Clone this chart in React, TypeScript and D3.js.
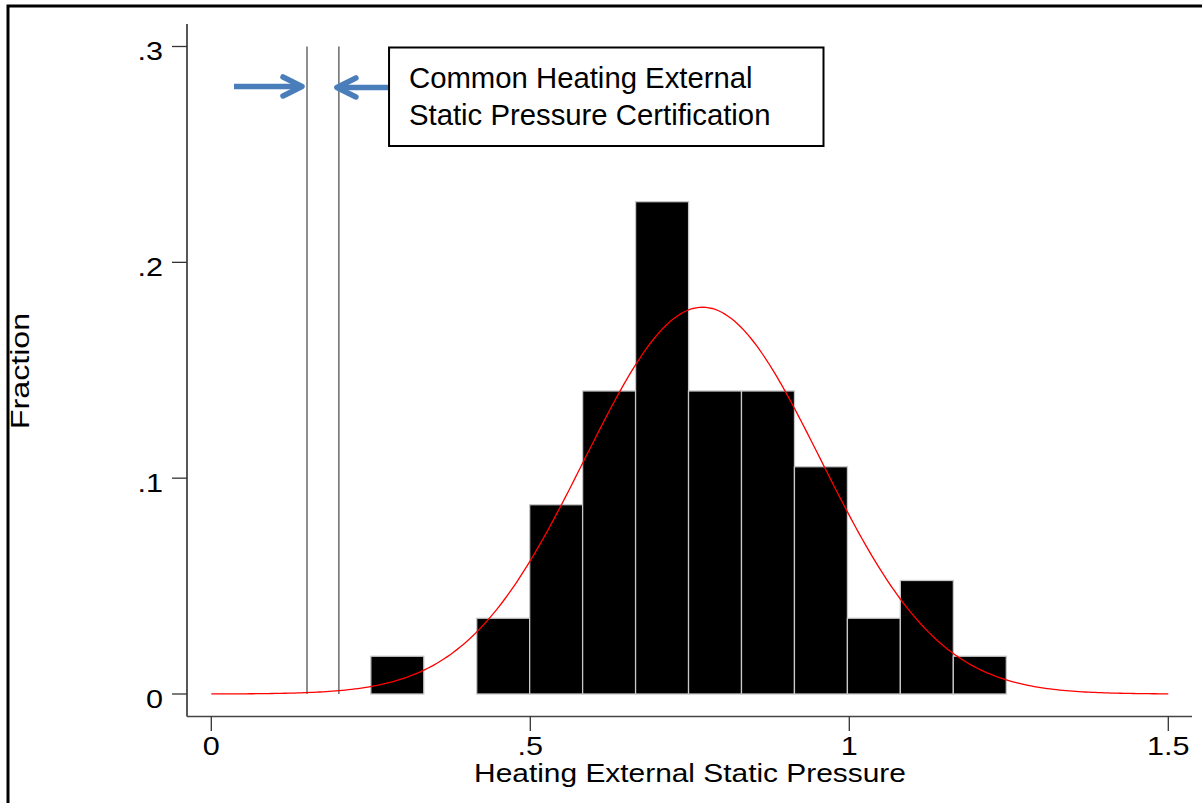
import React from "react";
import * as d3 from "d3";

// ---- data ----
const binLower = [0.25, 0.333, 0.416, 0.499, 0.582, 0.665, 0.748, 0.831, 0.914, 0.997, 1.08, 1.163];
const binFraction = [0.0175, 0, 0.0351, 0.0877, 0.1404, 0.2281, 0.1404, 0.1404, 0.1053, 0.0351, 0.0526, 0.0175];
const binWidth = 0.0831;
const normalMean = 0.77;
const normalSd = 0.185;
const xTicks = [0, 0.5, 1, 1.5];
const xTickLabels = ["0", ".5", "1", "1.5"];
const yTicks = [0, 0.1, 0.2, 0.3];
const yTickLabels = ["0", ".1", ".2", ".3"];
const certLines = [0.15, 0.2];
const annotationLines = ["Common Heating External", "Static Pressure Certification"];
const xTitle = "Heating External Static Pressure";
const yTitle = "Fraction";

const W = 1202;
const H = 803;

export default function App() {
  const x = d3.scaleLinear().domain([0, 1.5]).range([211.3, 1168.3]);
  const y = d3.scaleLinear().domain([0, 0.3]).range([694, 46.5]);

  const axisLeft = 187;
  const axisBottom = 716.5;
  const axisTop = 24;
  const axisRight = 1192;

  const curvePts = d3.range(0, 1.5 + 1e-9, 0.005).map((v) => {
    const z = (v - normalMean) / normalSd;
    const dens = Math.exp(-0.5 * z * z) / (normalSd * Math.sqrt(2 * Math.PI));
    return [v, dens * binWidth] as [number, number];
  });
  const line = d3
    .line<[number, number]>()
    .x((d) => x(d[0]))
    .y((d) => y(d[1]))
    .curve(d3.curveLinear);

  const font = "Liberation Sans, Arial, Helvetica, sans-serif";
  const blue = "#4a7ebb";
  const arrowY = y(0.2815);
  const tipL = x(certLines[0]) - 5;
  const tipR = x(certLines[1]) - 2;
  const boxL = x(0.2786);
  const boxR = 823.5;
  const boxT = 47.5;
  const boxB = 146;

  return (
    <svg
      width={W}
      height={H}
      style={{ position: "absolute", left: 0, top: 0, background: "#fff" }}
      fontFamily={font}
    >
      <rect x={0} y={0} width={W} height={H} fill="#fff" />
      {/* outer frame (top & left visible) */}
      <rect x={8} y={6} width={W + 20} height={H + 20} fill="none" stroke="#000" strokeWidth={3} />

      {/* bars */}
      {binLower.map((b, i) =>
        binFraction[i] > 0 ? (
          <rect
            key={i}
            x={x(b)}
            y={y(binFraction[i])}
            width={x(b + binWidth) - x(b)}
            height={y(0) - y(binFraction[i])}
            fill="#000"
            stroke="#c8c8c8"
            strokeWidth={1.3}
          />
        ) : null
      )}

      {/* vertical certification lines */}
      {certLines.map((c, i) => (
        <line key={i} x1={x(c)} x2={x(c)} y1={y(0.3)} y2={y(0)} stroke="#333" strokeWidth={1.1} />
      ))}

      {/* normal curve */}
      <path d={line(curvePts) || ""} fill="none" stroke="#ff0000" strokeWidth={1.3} />

      {/* axes */}
      <line x1={axisLeft} x2={axisLeft} y1={axisTop} y2={axisBottom} stroke="#111" strokeWidth={1.4} />
      <line x1={axisLeft} x2={axisRight} y1={axisBottom} y2={axisBottom} stroke="#444" strokeWidth={1.4} />
      {yTicks.map((t, i) => (
        <g key={i}>
          <line x1={172} x2={axisLeft} y1={y(t)} y2={y(t)} stroke="#333" strokeWidth={1.3} />
          <text
            transform={`translate(163,${y(t) + 13.5}) scale(1.2,1)`}
            textAnchor="end"
            fontSize={25.5}
            fill="#000"
          >
            {yTickLabels[i]}
          </text>
        </g>
      ))}
      {xTicks.map((t, i) => (
        <g key={i}>
          <line x1={x(t)} x2={x(t)} y1={axisBottom} y2={731} stroke="#333" strokeWidth={1.3} />
          <text
            transform={`translate(${x(t)},755) scale(1.2,1)`}
            textAnchor="middle"
            fontSize={25.5}
            fill="#000"
          >
            {xTickLabels[i]}
          </text>
        </g>
      ))}
      <text
        transform={`translate(690,781.5) scale(1.15,1)`}
        textAnchor="middle"
        fontSize={26}
        fill="#000"
      >
        {xTitle}
      </text>
      <text
        transform={`translate(28.5,371) rotate(-90) scale(1.24,1)`}
        textAnchor="middle"
        fontSize={26}
        fill="#000"
      >
        {yTitle}
      </text>

      {/* arrows */}
      <g stroke={blue} strokeWidth={5.5} strokeLinecap="round" strokeLinejoin="round" fill="none">
        <line x1={234} x2={tipL - 2} y1={arrowY} y2={arrowY} strokeLinecap="butt" />
        <polyline points={`${tipL - 19},${arrowY - 9.5} ${tipL},${arrowY} ${tipL - 19},${arrowY + 9.5}`} />
        <line x1={boxL} x2={tipR + 2} y1={arrowY + 1} y2={arrowY + 1} strokeLinecap="butt" />
        <polyline points={`${tipR + 19},${arrowY + 1 - 9.5} ${tipR},${arrowY + 1} ${tipR + 19},${arrowY + 1 + 9.5}`} />
      </g>

      {/* annotation box */}
      <rect x={boxL} y={boxT} width={boxR - boxL} height={boxB - boxT} fill="#fff" stroke="#000" strokeWidth={2} />
      {annotationLines.map((s, i) => (
        <text key={i} x={409} y={87.5 + i * 37.5} fontSize={29.3} fill="#000">
          {s}
        </text>
      ))}
    </svg>
  );
}
